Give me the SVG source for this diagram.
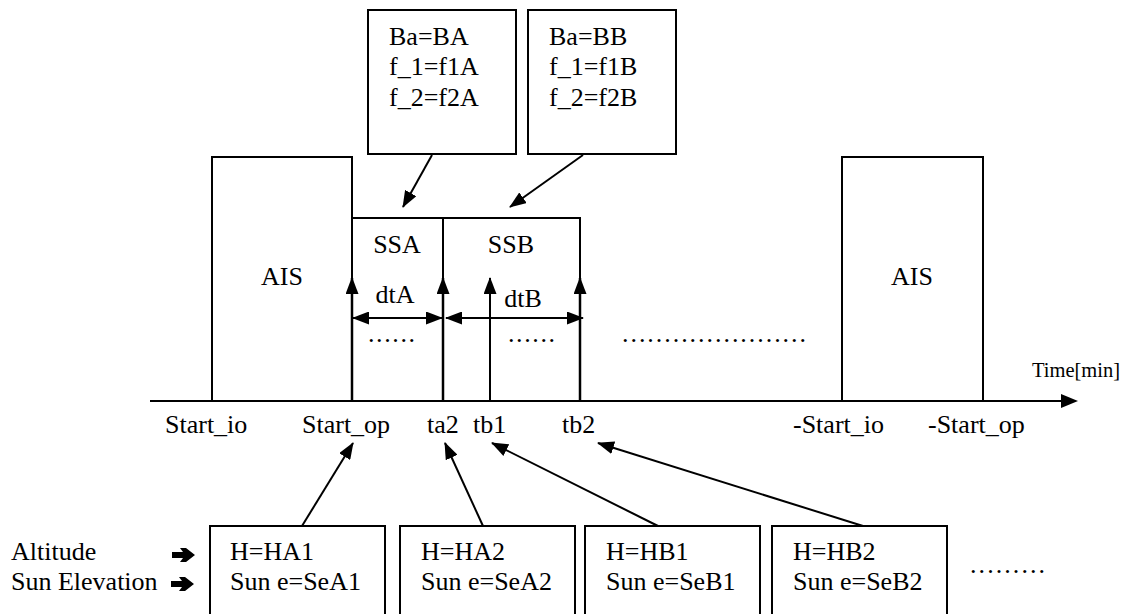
<svg xmlns="http://www.w3.org/2000/svg" width="1125" height="614" viewBox="0 0 1125 614">
<style>
text{font-family:"Liberation Serif","Times New Roman",serif;font-size:26px;fill:#000}
.sm{font-size:20.5px}
.box{fill:#fff;stroke:#000;stroke-width:2}
.ln{fill:none;stroke:#000;stroke-width:2}
.th{fill:none;stroke:#000;stroke-width:2.5}
.c{text-anchor:middle}
</style>
<defs>
<marker id="ah" markerUnits="userSpaceOnUse" markerWidth="17" markerHeight="13" refX="16" refY="6.5" orient="auto-start-reverse" viewBox="0 0 17 13">
<path d="M0,0 L17,6.5 L0,13 z" fill="#000"/>
</marker>
<path id="bigarrow" d="M0,-3 L11,-3 L8,-7 L14,-7 L23,0 L14,7 L8,7 L11,3 L0,3 z" fill="#000"/>
</defs>
<g id="axis">
<line class="ln" x1="150" y1="401" x2="1062" y2="401"/>
<path d="M1061,394 L1078,401 L1061,408 z" fill="#000"/>
<text class="sm" x="1032" y="377">Time[min]</text>
</g>
<g id="ais-left">
<rect class="box" x="212" y="157" width="140" height="244"/>
<text class="c" x="282" y="285">AIS</text>
</g>
<g id="ais-right">
<rect class="box" x="842" y="157" width="141" height="244"/>
<text class="c" x="912" y="285">AIS</text>
</g>
<g id="ssa">
<rect class="box" x="352" y="218" width="91" height="183"/>
<text class="c" x="397" y="253">SSA</text>
<text class="c" x="395" y="303">dtA</text>
<text x="368" y="342" textLength="47" lengthAdjust="spacing">......</text>
</g>
<g id="ssb">
<rect class="box" x="443" y="218" width="137" height="183"/>
<text class="c" x="511" y="253">SSB</text>
<text class="c" x="523" y="307">dtB</text>
<text x="508" y="342" textLength="47" lengthAdjust="spacing">......</text>
</g>
<g id="box-ba">
<rect class="box" x="368" y="10" width="148" height="144"/>
<text x="389" y="45">Ba=BA</text>
<text x="389" y="75">f_1=f1A</text>
<text x="389" y="106">f_2=f2A</text>
</g>
<g id="box-bb">
<rect class="box" x="528" y="10" width="148" height="144"/>
<text x="549" y="45">Ba=BB</text>
<text x="549" y="75">f_1=f1B</text>
<text x="549" y="106">f_2=f2B</text>
</g>
<g id="dots-mid">
<text x="622" y="342" textLength="184" lengthAdjust="spacing">......................</text>
</g>
<g id="labels">
<text x="165" y="433">Start_io</text>
<text x="302" y="433">Start_op</text>
<text x="427" y="433">ta2</text>
<text x="473" y="433">tb1</text>
<text x="562" y="433">tb2</text>
<text x="793" y="433">-Start_io</text>
<text x="928" y="433">-Start_op</text>
</g>
<g id="legend">
<text x="11" y="560">Altitude</text>
<text x="11" y="590">Sun Elevation</text>
<use href="#bigarrow" x="172" y="555"/>
<use href="#bigarrow" x="171" y="584"/>
</g>
<g id="box-a1">
<rect class="box" x="210" y="526" width="175" height="100"/>
<text x="230" y="560">H=HA1</text>
<text x="230" y="590">Sun e=SeA1</text>
</g>
<g id="box-a2">
<rect class="box" x="400" y="526" width="175" height="100"/>
<text x="421" y="560">H=HA2</text>
<text x="421" y="590">Sun e=SeA2</text>
</g>
<g id="box-b1">
<rect class="box" x="585" y="526" width="175" height="100"/>
<text x="606" y="560">H=HB1</text>
<text x="606" y="590">Sun e=SeB1</text>
</g>
<g id="box-b2">
<rect class="box" x="772" y="526" width="175" height="100"/>
<text x="793" y="560">H=HB2</text>
<text x="793" y="590">Sun e=SeB2</text>
</g>
<g id="dots-bottom">
<text x="970" y="573" textLength="75" lengthAdjust="spacing">.........</text>
</g>
<g id="connectors">
<line class="th" x1="352" y1="401" x2="352" y2="278" marker-end="url(#ah)"/>
<line class="th" x1="443" y1="401" x2="443" y2="278" marker-end="url(#ah)"/>
<line class="ln" x1="490" y1="401" x2="490" y2="278" marker-end="url(#ah)"/>
<line class="th" x1="580" y1="401" x2="580" y2="278" marker-end="url(#ah)"/>
<line class="ln" x1="353" y1="318" x2="442" y2="318" marker-start="url(#ah)" marker-end="url(#ah)"/>
<line class="ln" x1="446" y1="318" x2="583" y2="318" marker-start="url(#ah)" marker-end="url(#ah)"/>
<line class="ln" x1="432" y1="155" x2="403" y2="207" marker-end="url(#ah)"/>
<line class="ln" x1="583" y1="155" x2="510" y2="207" marker-end="url(#ah)"/>
<line class="ln" x1="302" y1="526" x2="353" y2="443" marker-end="url(#ah)"/>
<line class="ln" x1="483" y1="526" x2="445" y2="443" marker-end="url(#ah)"/>
<line class="ln" x1="658" y1="526" x2="492" y2="443" marker-end="url(#ah)"/>
<line class="ln" x1="863" y1="526" x2="598" y2="443" marker-end="url(#ah)"/>
</g>
</svg>
